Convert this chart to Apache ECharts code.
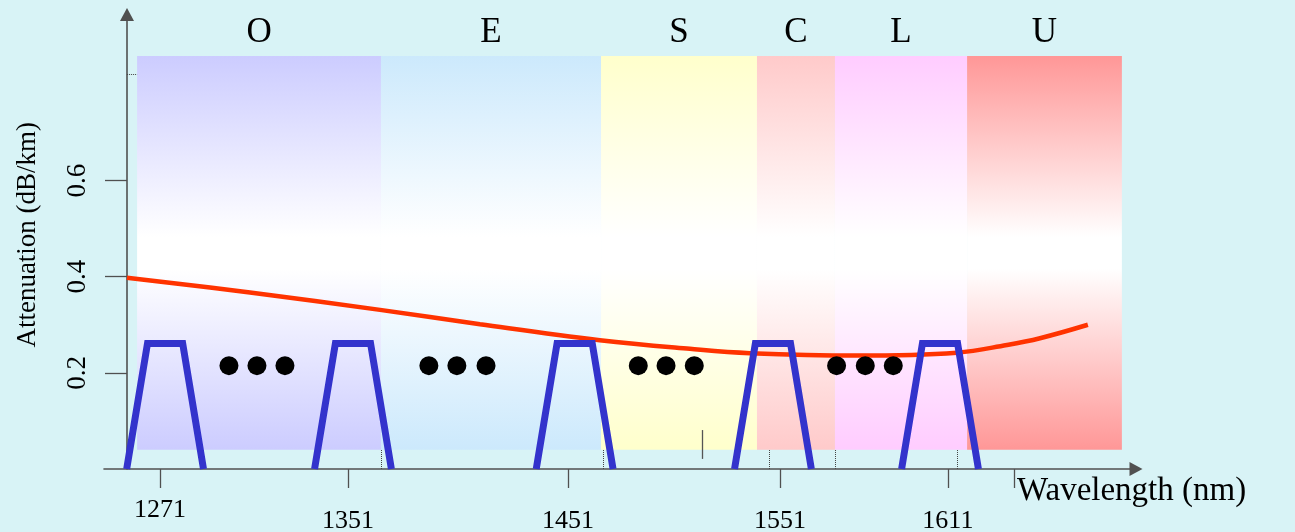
<!DOCTYPE html>
<html>
<head>
<meta charset="utf-8">
<script src="https://cdn.jsdelivr.net/npm/echarts@6/dist/echarts.min.js"></script>
<style>
html,body{margin:0;padding:0;background:#d8f3f6;}
#chart{width:1295px;height:532px;}
</style>
</head>
<body>
<div id="chart"></div>
<script>
// ---- data (schematic wavelength axis, nm) ----
const bandNames = ['O', 'E', 'S', 'C', 'L', 'U'];
const bandEdges = [1261.3, 1366.7, 1461.8, 1529.2, 1562.9, 1620.0, 1686.9];
const bandBottom = 0.04;
const bandTop = 0.859;

const curveWavelength = [1256.9, 1310.1, 1366.3, 1409.5, 1461.3, 1500.2, 1526.2, 1572.4, 1615.6, 1637.2, 1651.5, 1672.2];
const curveAttenuation = [0.398, 0.367, 0.331, 0.301, 0.268, 0.250, 0.241, 0.236, 0.242, 0.258, 0.272, 0.300];

const filterCenters = [1273.4, 1354.6, 1450.4, 1536.1, 1608.3];
const filterBaseHalfWidth = 16.6;
const filterTopHalfWidth = 7.6;
const filterPeak = 0.261;

const dotWavelength = [1301.0, 1313.1, 1325.2, 1387.4, 1399.5, 1412.1, 1477.9, 1489.9, 1502.1, 1563.6, 1576.0, 1588.1];
const dotLevel = 0.215;

const xTickValues = [1271.2, 1352.4, 1447.5, 1539.1, 1611.7, 1640.3];
const xTickLabels = ['1271', '1351', '1451', '1551', '1611', ''];
const yTickValues = [0.2, 0.4, 0.6];
const yTickLabels = ['0.2', '0.4', '0.6'];

const dottedMarks = [1366.7, 1462.6, 1534.4, 1562.9, 1615.6];
const strayMark = {x: 1505.4, y0: 0.021, y1: 0.081};
const yDottedMark = {y: 0.82, x0: 1256.9, x1: 1261.3};

// ---- styles ----
const bandColors = ['#ccccff', '#cce9fc', '#ffffcc', '#ffcaca', '#ffccff', '#ff9797'];
const serif = 'Liberation Serif';

function grad(c) {
  return new echarts.graphic.LinearGradient(0, 0, 0, 1, [
    {offset: 0, color: c},
    {offset: 0.46, color: '#ffffff'},
    {offset: 0.54, color: '#ffffff'},
    {offset: 1, color: c}
  ]);
}

const bandAreas = bandNames.map((n, i) => [
  {name: n, xAxis: bandEdges[i], yAxis: bandTop, itemStyle: {color: grad(bandColors[i])}},
  {xAxis: bandEdges[i + 1], yAxis: bandBottom}
]);

const curveData = curveWavelength.map((w, i) => [w, curveAttenuation[i]]);

const filterData = [];
filterCenters.forEach((c, i) => {
  if (i > 0) filterData.push([null, null]);
  filterData.push([c - filterBaseHalfWidth, 0]);
  filterData.push([c - filterTopHalfWidth, filterPeak]);
  filterData.push([c + filterTopHalfWidth, filterPeak]);
  filterData.push([c + filterBaseHalfWidth, 0]);
});

const dotData = dotWavelength.map(w => [w, dotLevel]);

const axisCol = '#505050';

const chart = echarts.init(document.getElementById('chart'));
chart.setOption({
  backgroundColor: '#d8f3f6',
  animation: false,
  grid: {left: 104, right: 159, top: 14.5, bottom: 63, outerBoundsMode: 'none', containLabel: false},
  xAxis: {
    type: 'value', min: 1247, max: 1693,
    splitLine: {show: false},
    axisLine: {lineStyle: {color: axisCol, width: 1.6}, symbol: ['none', 'triangle'], symbolSize: [14, 13], onZero: false},
    axisTick: {customValues: xTickValues, length: 19, lineStyle: {color: axisCol, width: 1.3}},
    axisLabel: {
      customValues: xTickValues,
      margin: 28,
      formatter: function (v) {
        let k = 0, best = Infinity;
        xTickValues.forEach((t, i) => { const d = Math.abs(t - v); if (d < best) { best = d; k = i; } });
        const s = xTickLabels[k];
        if (!s) return '';
        return k === 0 ? '{hi|' + s + '}' : '{lo|' + s + '}';
      },
      rich: {
        hi: {fontFamily: serif, fontSize: 26, color: '#000', lineHeight: 27},
        lo: {fontFamily: serif, fontSize: 26, color: '#000', lineHeight: 48}
      }
    },
    name: 'Wavelength (nm)',
    nameLocation: 'end',
    nameGap: -119,
    nameTextStyle: {fontFamily: serif, fontSize: 33, color: '#000', align: 'left', verticalAlign: 'top', padding: [6, 0, 0, 0]}
  },
  yAxis: {
    type: 'value', min: 0, max: 0.9453,
    offset: -23,
    splitLine: {show: false},
    axisLine: {lineStyle: {color: axisCol, width: 1.6}, symbol: ['none', 'triangle'], symbolSize: [14, 13], onZero: false},
    axisTick: {customValues: yTickValues, length: 22, lineStyle: {color: axisCol, width: 1.3}},
    axisLabel: {
      customValues: yTickValues,
      rotate: 90,
      margin: 36,
      fontFamily: serif, fontSize: 27, color: '#000',
      formatter: v => yTickLabels[yTickValues.findIndex(t => Math.abs(t - v) < 1e-6)] || ''
    },
    name: 'Attenuation (dB/km)',
    nameLocation: 'middle',
    nameRotate: 90,
    nameGap: 86,
    nameTextStyle: {fontFamily: serif, fontSize: 27, color: '#000', padding: [0, 0, 0, 14]}
  },
  series: [
    {
      type: 'line', name: 'bands', data: [], silent: true,
      markArea: {
        silent: true,
        label: {show: true, position: 'top', distance: 6, fontFamily: serif, fontSize: 35, color: '#000'},
        data: bandAreas
      },
      markLine: {
        silent: true, symbol: 'none', animation: false,
        label: {show: false},
        lineStyle: {color: '#444', type: 'dotted', width: 1},
        data: dottedMarks.map(x => [{coord: [x, 0]}, {coord: [x, bandBottom]}]).concat([
          [{coord: [yDottedMark.x0, yDottedMark.y]}, {coord: [yDottedMark.x1, yDottedMark.y]}]
        ])
      },
      z: 1
    },
    {
      type: 'line', name: 'attenuation', data: curveData, smooth: 0.4, showSymbol: false,
      lineStyle: {color: '#ff3300', width: 4.5}, z: 3,
      markLine: {
        silent: true, symbol: 'none', label: {show: false},
        lineStyle: {color: '#555', type: 'solid', width: 1.3},
        data: [[{coord: [strayMark.x, strayMark.y0]}, {coord: [strayMark.x, strayMark.y1]}]]
      }
    },
    {
      type: 'line', name: 'filters', data: filterData, connectNulls: false, showSymbol: false,
      lineStyle: {color: '#3333cc', width: 7, join: 'miter'}, z: 4
    },
    {
      type: 'scatter', name: 'dots', data: dotData, symbolSize: 19,
      itemStyle: {color: '#000', opacity: 1}, z: 5
    }
  ]
});
</script>
</body>
</html>
